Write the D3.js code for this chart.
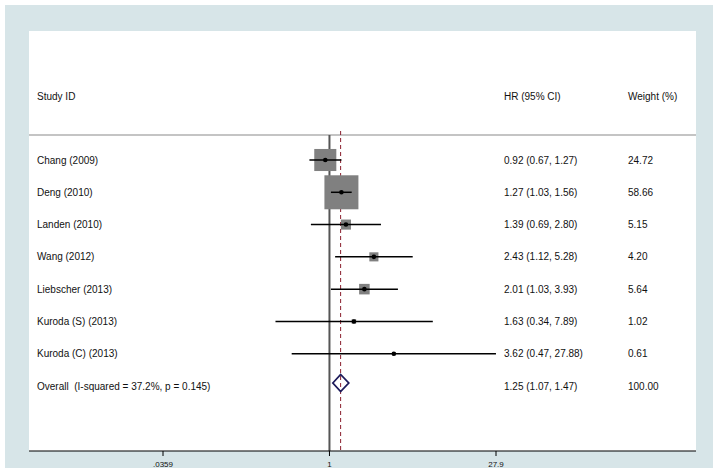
<!DOCTYPE html>
<html>
<head>
<meta charset="utf-8">
<script src="https://cdn.jsdelivr.net/npm/d3@7"></script>
<style>
  html, body { margin: 0; padding: 0; background: #fff; }
  svg { display: block; }
  text { white-space: pre; }
</style>
</head>
<body>
<div id="chart"></div>
<script>
// Forest plot — HR with 95% CI, fixed-effect weights

const studies  = ['Chang (2009)', 'Deng (2010)', 'Landen (2010)', 'Wang (2012)',
                  'Liebscher (2013)', 'Kuroda (S) (2013)', 'Kuroda (C) (2013)'];
const hr       = [0.92, 1.27, 1.39, 2.43, 2.01, 1.63, 3.62];
const lower    = [0.67, 1.03, 0.69, 1.12, 1.03, 0.34, 0.47];
const upper    = [1.27, 1.56, 2.80, 5.28, 3.93, 7.89, 27.88];
const weights  = ['24.72', '58.66', '5.15', '4.20', '5.64', '1.02', '0.61'];

const overallLabel  = 'Overall  (I-squared = 37.2%, p = 0.145)';
const overall       = { hr: 1.25, lo: 1.07, hi: 1.47, weight: '100.00' };

const tickValues = [0.0359, 1, 27.9];
const tickLabels = ['.0359', '1', '27.9'];

const fmt = d3.format('.2f');

const W = 720, H = 475;
const panel = { x0: 29, x1: 696, y0: 31, y1: 451 };
const FONT = 'Liberation Sans, Arial, Helvetica, sans-serif';

const svg = d3.select('#chart').append('svg')
  .attr('width', W).attr('height', H);

// ── frame ─────────────────────────────────────
svg.append('rect').attr('x', 5).attr('y', 5).attr('width', 708).attr('height', 463)
  .attr('fill', '#d7e5e8');
svg.append('rect').attr('x', panel.x0).attr('y', panel.y0)
  .attr('width', panel.x1 - panel.x0).attr('height', panel.y1 - panel.y0)
  .attr('fill', '#fff');

// ── scales ────────────────────────────────────
const x = d3.scaleLog().domain([0.0359, 27.9]).range([163, 496]);

const rows = [...studies, overallLabel];
const y = d3.scalePoint().domain(rows).range([160, 386]);

const maxW = d3.max(weights, d => +d);
const side = d3.scaleSqrt().domain([0, maxW]).range([0, 34]);

// ── header ────────────────────────────────────
const hdr = svg.append('g').attr('font-family', FONT).attr('font-size', 10).attr('fill', '#111');
hdr.append('text').attr('x', 37).attr('y', 100).text('Study ID');
hdr.append('text').attr('x', 504).attr('y', 100).text('HR (95% CI)');
hdr.append('text').attr('x', 628).attr('y', 100).text('Weight (%)');

svg.append('line')
  .attr('x1', panel.x0).attr('x2', panel.x1)
  .attr('y1', 135).attr('y2', 135)
  .attr('stroke', '#8a8a8a').attr('stroke-width', 1.2);

// ── reference lines ───────────────────────────
svg.append('line')
  .attr('x1', x(1)).attr('x2', x(1))
  .attr('y1', 135).attr('y2', panel.y1)
  .attr('stroke', '#555').attr('stroke-width', 2);

svg.append('line')
  .attr('x1', x(overall.hr)).attr('x2', x(overall.hr))
  .attr('y1', 131).attr('y2', panel.y1)
  .attr('stroke', '#8b1f2e').attr('stroke-width', 1)
  .attr('stroke-dasharray', '4,3');

// ── studies ───────────────────────────────────
const data = studies.map((s, i) => ({
  s, hr: hr[i], lo: lower[i], hi: upper[i], w: weights[i]
}));

const g = svg.append('g');

g.selectAll('rect.box')
  .data(data)
  .join('rect')
    .attr('class', 'box')
    .attr('x', d => x(d.hr) - side(+d.w) / 2)
    .attr('y', d => y(d.s) - side(+d.w) / 2)
    .attr('width', d => side(+d.w))
    .attr('height', d => side(+d.w))
    .attr('fill', '#808080');

g.selectAll('line.ci')
  .data(data)
  .join('line')
    .attr('class', 'ci')
    .attr('x1', d => x(d.lo)).attr('x2', d => x(d.hi))
    .attr('y1', d => y(d.s)).attr('y2', d => y(d.s))
    .attr('stroke', '#000').attr('stroke-width', 1.5);

g.selectAll('circle')
  .data(data)
  .join('circle')
    .attr('cx', d => x(d.hr)).attr('cy', d => y(d.s))
    .attr('r', 2.3).attr('fill', '#000');

// ── overall diamond ───────────────────────────
const yo = y(overallLabel) - 3;
svg.append('path')
  .attr('d', `M${x(overall.lo)},${yo} L${x(overall.hr)},${yo - 8.5} L${x(overall.hi)},${yo} L${x(overall.hr)},${yo + 8.5} Z`)
  .attr('fill', 'none').attr('stroke', '#1c1a5a').attr('stroke-width', 1.8);

// ── text columns ──────────────────────────────
const txt = svg.append('g').attr('font-family', FONT).attr('font-size', 10).attr('fill', '#111');

const allRows = [...data.map(d => ({ label: d.s, hr: d.hr, lo: d.lo, hi: d.hi, w: d.w })),
                 { label: overallLabel, hr: overall.hr, lo: overall.lo, hi: overall.hi, w: overall.weight }];

txt.selectAll('text.lab').data(allRows).join('text').attr('class', 'lab')
  .attr('x', 37).attr('y', d => y(d.label)).attr('dy', '0.35em')
  .attr('xml:space', 'preserve')
  .text(d => d.label);

txt.selectAll('text.est').data(allRows).join('text').attr('class', 'est')
  .attr('x', 504).attr('y', d => y(d.label)).attr('dy', '0.35em')
  .text(d => `${fmt(d.hr)} (${fmt(d.lo)}, ${fmt(d.hi)})`);

txt.selectAll('text.wt').data(allRows).join('text').attr('class', 'wt')
  .attr('x', 628).attr('y', d => y(d.label)).attr('dy', '0.35em')
  .text(d => d.w);

// ── x axis ────────────────────────────────────
svg.append('line')
  .attr('x1', panel.x0).attr('x2', panel.x1)
  .attr('y1', panel.y1).attr('y2', panel.y1)
  .attr('stroke', '#000').attr('stroke-width', 1.2);

const ax = svg.append('g').attr('font-family', FONT).attr('font-size', 8).attr('fill', '#111');
ax.selectAll('line').data(tickValues).join('line')
  .attr('x1', d => x(d)).attr('x2', d => x(d))
  .attr('y1', panel.y1).attr('y2', panel.y1 + 5)
  .attr('stroke', '#000').attr('stroke-width', 1);
ax.selectAll('text').data(tickValues).join('text')
  .attr('x', d => x(d)).attr('y', 467)
  .attr('text-anchor', 'middle')
  .text((d, i) => tickLabels[i]);
</script>
</body>
</html>
